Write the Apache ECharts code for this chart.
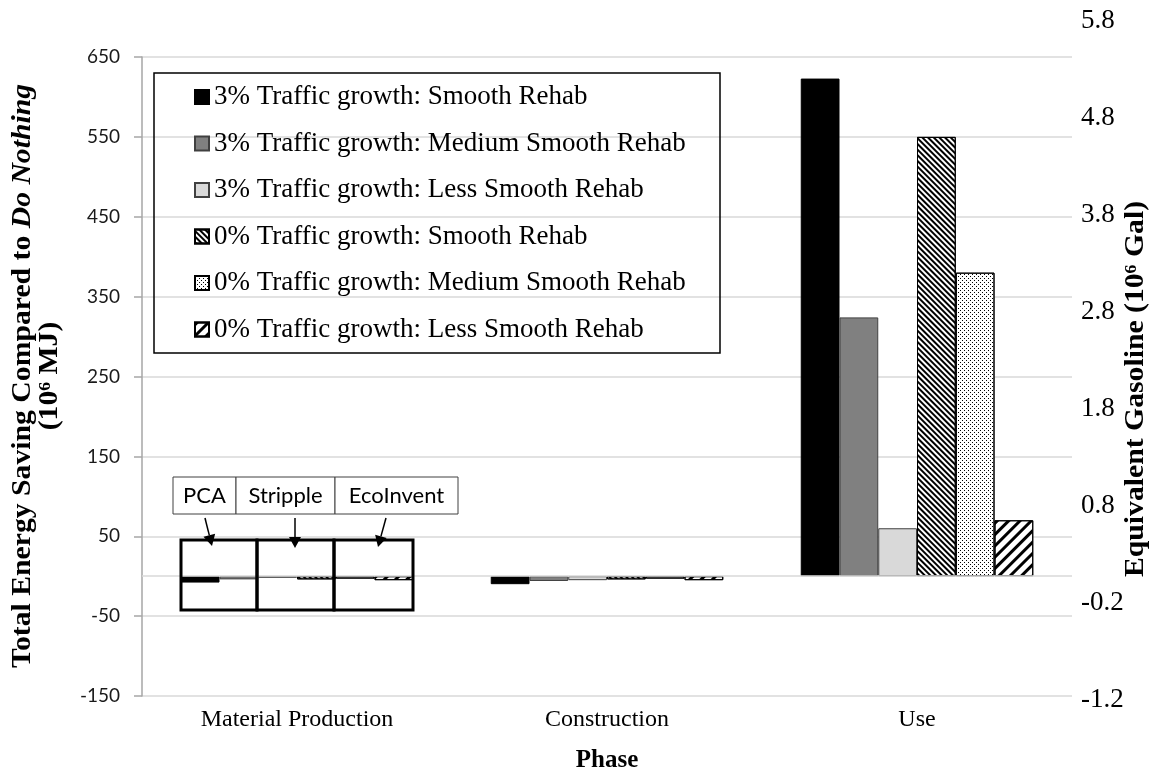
<!DOCTYPE html>
<html><head><meta charset="utf-8">
<script src="https://cdn.jsdelivr.net/npm/echarts@6/dist/echarts.min.js"></script>
<style>html,body{margin:0;padding:0;background:#fff}#c{width:1172px;height:776px}</style>
</head><body><div id="c"></div>
<script>
// ---- data ----
const categories = ['Material Production', 'Construction', 'Use'];
const seriesNames = [
  '3% Traffic growth: Smooth Rehab',
  '3% Traffic growth: Medium Smooth Rehab',
  '3% Traffic growth: Less Smooth Rehab',
  '0% Traffic growth: Smooth Rehab',
  '0% Traffic growth: Medium Smooth Rehab',
  '0% Traffic growth: Less Smooth Rehab'
];
const g3Smooth = [-8, -10, 623];
const g3Medium = [-4, -6, 324];
const g3Less = [-2, -5, 60];
const g0Smooth = [-4, -4, 550];
const g0Medium = [-3, -3, 380];
const g0Less = [-5, -5, 70];
const leftMin = -150, leftMax = 650, leftStep = 100;
const rightTickLabels = ['-1.2', '-0.2', '0.8', '1.8', '2.8', '3.8', '4.8', '5.8'];
const sourceLabels = ['PCA', 'Stripple', 'EcoInvent'];

// ---- styles ----
const styles = [
  { color: '#000000', borderColor: '#000000', borderWidth: 1 },
  { color: '#808080', borderColor: '#404040', borderWidth: 1 },
  { color: '#d9d9d9', borderColor: '#404040', borderWidth: 1 },
  { color: '#ffffff', borderColor: '#000000', borderWidth: 1,
    decal: { symbol: 'rect', symbolSize: 1, color: '#000', dashArrayX: [1, 0], dashArrayY: [2, 2], rotation: Math.PI / 4 } },
  { color: '#ffffff', borderColor: '#000000', borderWidth: 1,
    decal: { symbol: 'rect', symbolSize: 1, color: '#000', dashArrayX: [[1, 3], [0, 2, 1, 1]], dashArrayY: [1, 1], rotation: 0 } },
  { color: '#ffffff', borderColor: '#000000', borderWidth: 1,
    decal: { symbol: 'rect', symbolSize: 1, color: '#000', dashArrayX: [1, 0], dashArrayY: [3, 5], rotation: -Math.PI / 4 } }
];
const values = [g3Smooth, g3Medium, g3Less, g0Smooth, g0Medium, g0Less];

const serif = 'Liberation Serif, Times New Roman, serif';
const sans = 'Lato, Open Sans, sans-serif';

const series = values.map((v, i) => ({
  name: seriesNames[i],
  type: 'bar',
  data: v,
  barGap: '0%',
  barCategoryGap: '25%',
  itemStyle: styles[i],
  emphasis: { disabled: true },
  markLine: i === 0 ? {
    silent: true, symbol: 'none', label: { show: false },
    lineStyle: { color: '#d9d9d9', type: 'solid', width: 1.5 },
    data: [{ yAxis: 0 }]
  } : undefined
}));

// ---- annotation graphics ----
const graphics = [];
graphics.push({ type: 'rect', shape: { x: 154, y: 73, width: 566, height: 280 },
  style: { fill: 'none', stroke: '#000', lineWidth: 1.5 }, z: 100 });
const lbX = [173, 236, 335, 458];
sourceLabels.forEach((t, i) => {
  graphics.push({ type: 'rect', shape: { x: lbX[i], y: 477, width: lbX[i + 1] - lbX[i], height: 37 },
    style: { fill: '#fff', stroke: '#404040', lineWidth: 1 }, z: 100 });
  graphics.push({ type: 'text', x: (lbX[i] + lbX[i + 1]) / 2, y: 496,
    style: { text: t, font: '22px ' + sans, fill: '#000', align: 'center', verticalAlign: 'middle' }, z: 101 });
});
const bx = [181, 257, 334, 413];
for (let i = 0; i < 3; i++) {
  graphics.push({ type: 'rect', shape: { x: bx[i], y: 540, width: bx[i + 1] - bx[i], height: 70 },
    style: { fill: 'none', stroke: '#000', lineWidth: 3 }, z: 100 });
}
function arrow(x1, y1, x2, y2) {
  const dx = x2 - x1, dy = y2 - y1, L = Math.hypot(dx, dy);
  const ux = dx / L, uy = dy / L, hl = 11, hw = 6;
  const bxp = x2 - ux * hl, byp = y2 - uy * hl;
  graphics.push({ type: 'line', shape: { x1, y1, x2: bxp, y2: byp }, style: { stroke: '#000', lineWidth: 1.5 }, z: 102 });
  graphics.push({ type: 'polygon', shape: { points: [[x2, y2], [bxp - uy * hw, byp + ux * hw], [bxp + uy * hw, byp - ux * hw]] },
    style: { fill: '#000' }, z: 102 });
}
arrow(205, 518, 212, 546);
arrow(295, 518, 295, 548);
arrow(386, 518, 378, 547);
// axis titles
graphics.push({ type: 'text', x: 37, y: 376, rotation: Math.PI / 2, scaleX: 1.1,
  style: { text: '{b|Total Energy Saving Compared to }{bi|Do Nothing}\n{b|(10⁶ MJ)}',
    align: 'center', verticalAlign: 'middle',
    rich: {
      b: { font: 'bold 27px ' + serif, fill: '#000', lineHeight: 27, align: 'center' },
      bi: { font: 'italic bold 27px ' + serif, fill: '#000', lineHeight: 27 }
    } } });
graphics.push({ type: 'text', x: 1136, y: 389, rotation: Math.PI / 2, scaleX: 1.1,
  style: { text: 'Equivalent Gasoline (10⁶ Gal)', font: 'bold 27px ' + serif, fill: '#000', align: 'center', verticalAlign: 'middle' } });

const chart = echarts.init(document.getElementById('c'), null, { renderer: 'canvas' });
chart.setOption({
  animation: false,
  backgroundColor: '#fff',
  grid: [
    { left: 142, right: 100, top: 57, bottom: 80, containLabel: false, outerBoundsMode: 'none' },
    { left: 142, right: 100, top: 21, bottom: 76, containLabel: false, outerBoundsMode: 'none' }
  ],
  legend: {
    orient: 'vertical', left: 194, top: 82, padding: 0,
    itemWidth: 14, itemHeight: 14, itemGap: 16.5,
    icon: 'rect',
    data: seriesNames,
    textStyle: { fontFamily: serif, fontSize: 27, color: '#000', lineHeight: 30 },
    selectedMode: false
  },
  xAxis: [
    { type: 'category', gridIndex: 0, data: categories,
      axisLine: { show: false, onZero: false }, axisTick: { show: false },
      axisLabel: { fontFamily: serif, fontSize: 24, color: '#000', margin: 12 },
      name: 'Phase', nameLocation: 'middle', nameGap: 52,
      nameTextStyle: { fontFamily: serif, fontSize: 25, fontWeight: 'bold', color: '#000' } },
    { type: 'value', gridIndex: 1, show: false }
  ],
  yAxis: [
    { type: 'value', gridIndex: 0, min: leftMin, max: leftMax, interval: leftStep,
      axisLine: { show: true, lineStyle: { color: '#a6a6a6', width: 1.5 } },
      axisTick: { show: true, length: 8, lineStyle: { color: '#a6a6a6', width: 1.5 } },
      splitLine: { show: true, lineStyle: { color: '#d9d9d9', width: 1.5 } },
      axisLabel: { fontFamily: sans, fontSize: 19, color: '#1a1a1a', margin: 22 } },
    { type: 'category', gridIndex: 1, position: 'right', data: rightTickLabels, boundaryGap: false,
      axisLine: { show: false }, axisTick: { show: false }, splitLine: { show: false },
      axisLabel: { fontFamily: serif, fontSize: 27, color: '#000', margin: 9, interval: 0 } }
  ],
  series: series,
  graphic: graphics
});
</script></body></html>
